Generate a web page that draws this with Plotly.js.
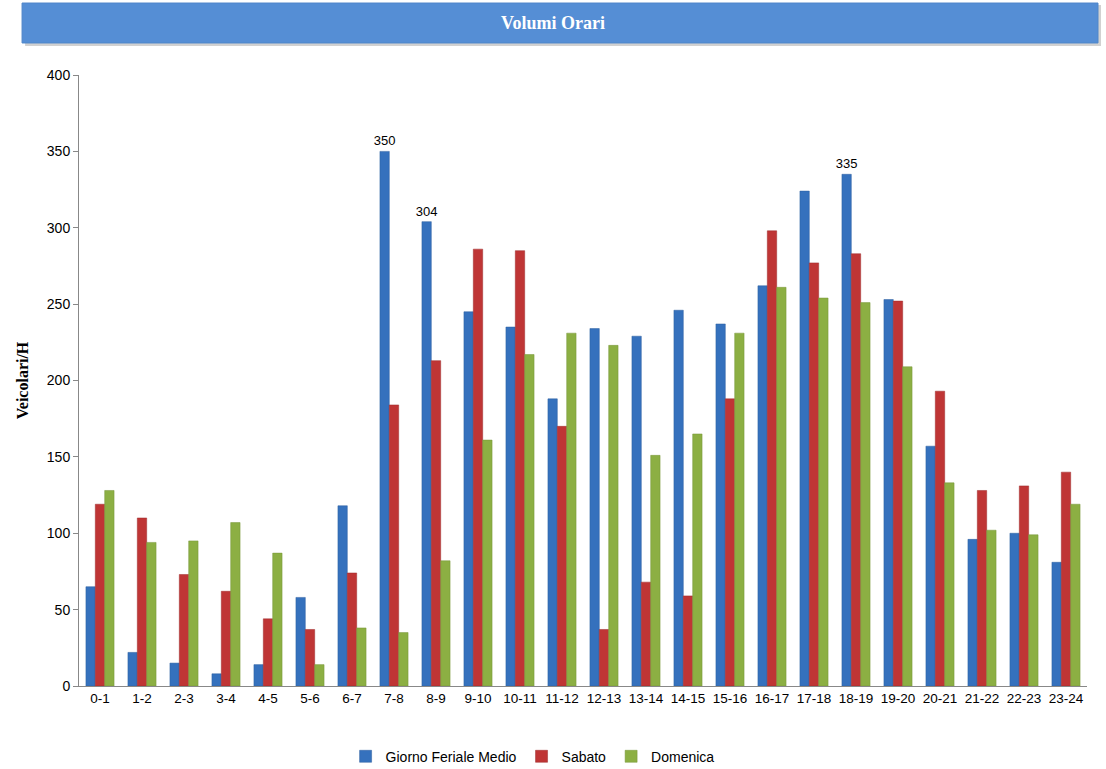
<!DOCTYPE html>
<html>
<head>
<meta charset="utf-8">
<script src="https://cdn.plot.ly/plotly-3.0.1.min.js"></script>
<style>html,body{margin:0;padding:0;background:#fff;}#chart{width:1106px;height:769px;}</style>
</head>
<body>
<div id="chart"></div>
<script>
const categories = ["0-1","1-2","2-3","3-4","4-5","5-6","6-7","7-8","8-9","9-10","10-11","11-12","12-13","13-14","14-15","15-16","16-17","17-18","18-19","19-20","20-21","21-22","22-23","23-24"];
const feriale = [65,22,15,8,14,58,118,350,304,245,235,188,234,229,246,237,262,324,335,253,157,96,100,81];
const sabato = [119,110,73,62,44,37,74,184,213,286,285,170,37,68,59,188,298,277,283,252,193,128,131,140];
const domenica = [128,94,95,107,87,14,38,35,82,161,217,231,223,151,165,231,261,254,251,209,133,102,99,119];
const labelled = ["7-8","8-9","18-19"];
const seriesNames = ["Giorno Feriale Medio","Sabato","Domenica"];
const yTitle = "Veicolari/H";
const chartTitle = "Volumi Orari";

const ferialeText = categories.map((c,i)=> labelled.includes(c) ? String(feriale[i]) : "");

const traces = [
  {type:"bar", name:seriesNames[0], x:categories, y:feriale, text:ferialeText, textposition:"outside",
   constraintext:"none", cliponaxis:false,
   textfont:{family:"Liberation Sans, Arial", size:13, color:"#000"},
   marker:{color:"#3571bd", line:{color:"#2c5f9e", width:0.5}}},
  {type:"bar", name:seriesNames[1], x:categories, y:sabato,
   marker:{color:"#bf3535", line:{color:"#9d2b2b", width:0.5}}},
  {type:"bar", name:seriesNames[2], x:categories, y:domenica,
   marker:{color:"#8caf43", line:{color:"#769539", width:0.5}}}
];

const layout = {
  width:1106, height:769,
  paper_bgcolor:"#fff", plot_bgcolor:"#fff",
  margin:{l:79, r:19, t:75, b:83, autoexpand:false},
  barmode:"group", bargap:0.33, bargroupgap:0,
  showlegend:true,
  legend:{orientation:"h", x:0.45, xanchor:"center", xref:"paper", yref:"container", y:0.016, yanchor:"middle",
          font:{family:"Liberation Sans, Arial", size:14, color:"#000"}, itemwidth:30, traceorder:"normal"},
  title:{text:"<b>"+chartTitle+"</b>", x:0.5, xanchor:"center", y:0.97, yanchor:"middle",
         yref:"container", font:{family:"Liberation Serif, DejaVu Serif", size:18, color:"#fff"}},
  xaxis:{type:"category", showline:true, linecolor:"#888", linewidth:1, ticks:"", showgrid:false,
         tickfont:{family:"Liberation Sans, Arial", size:13.5, color:"#000"}, fixedrange:true},
  yaxis:{range:[0,400], dtick:50, showline:true, linecolor:"#888", linewidth:1, ticks:"outside", ticklen:5,
         tickcolor:"#888", showgrid:false, zeroline:false,
         tickfont:{family:"Liberation Sans, Arial", size:14, color:"#000"},
         title:{text:"<b>"+yTitle+"</b>", standoff:14, font:{family:"Liberation Serif, DejaVu Serif", size:16, color:"#000"}}},
  shapes:[
    {type:"rect", xref:"paper", yref:"paper", x0:-0.0535, x1:1.0139, y0:1.1145, y1:1.0475,
     fillcolor:"rgba(0,0,0,0.18)", line:{width:0}, layer:"below"},
    {type:"rect", xref:"paper", yref:"paper", x0:-0.0565, x1:1.0109, y0:1.1178, y1:1.0524,
     fillcolor:"#558ed5", line:{color:"#4f86c9", width:1}, layer:"below"}
  ]
};

Plotly.newPlot("chart", traces, layout, {displayModeBar:false, staticPlot:true});
</script>
</body>
</html>
